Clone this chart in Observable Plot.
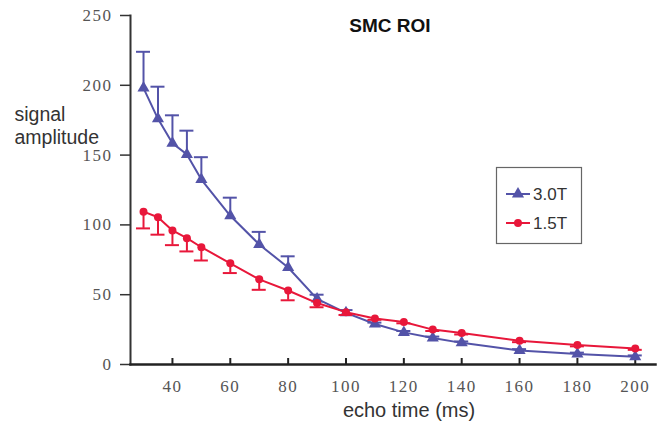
<!DOCTYPE html>
<html><head><meta charset="utf-8">
<script src="https://cdn.jsdelivr.net/npm/d3@7"></script>
<script src="https://cdn.jsdelivr.net/npm/@observablehq/plot@0.6"></script>
<style>
body{margin:0;background:#fff}
g[aria-label="y-axis tick label"] text, g[aria-label="x-axis tick label"] text {letter-spacing:1.5px}
</style>
</head><body><div id="chart"></div>
<script>
const echoTimes = [30,35,40,45,50,60,70,80,90,100,110,120,130,140,160,180,200];
const amp30 = [198,176,158.5,150.5,132.5,106.5,86,69.5,47,37,29,23,19,15.5,10,7.5,5.5];
const err30 = [26,23,20,17,16,13,9,8,3,2,1,1,1,1,1,1,1];
const amp15 = [109.5,105.5,96,90.5,84,72.5,61,53,44,37.5,33,30.5,25,22.5,17,14,11.5];
const err15 = [12,12.5,10.5,9.5,9.5,7,7.5,7,3,2,1,1,1,1,1,1,1];
const seriesNames = ["3.0T","1.5T"];
const seriesColors = ["#5353a8","#e8173a"];
const seriesSymbols = ["triangle","circle"];
const yTicks = [0,50,100,150,200,250];
const xTicks = [40,60,80,100,120,140,160,180,200];
const titleText = "SMC ROI";
const yLabel = "signal\namplitude";
const xLabel = "echo time (ms)";

const s30 = echoTimes.map((t,i)=>({t, v: amp30[i], e: err30[i]}));
const s15 = echoTimes.map((t,i)=>({t, v: amp15[i], e: err15[i]}));

const sans = "Liberation Sans, Arial, sans-serif";
const serif = "Liberation Serif, Times New Roman, serif";

const chart = Plot.plot({
  width: 659, height: 429,
  marginLeft: 130, marginRight: 4, marginTop: 15, marginBottom: 65,
  x: {domain: [25.5, 207]},
  y: {domain: [0, 250]},
  marks: [
    Plot.axisY(yTicks, {tickSize: 10, tickPadding: 8, fontFamily: serif, fontSize: 17, fill: "#555", stroke: "#333", strokeWidth: 1.5, label: null}),
    Plot.axisX(xTicks, {tickSize: 0, tickPadding: 15, fontFamily: serif, fontSize: 17, fill: "#555", label: null}),
    Plot.ruleX(xTicks, {x: d => d, insetTop: 343, stroke: "#222", strokeWidth: 2}),
    // 3.0T
    Plot.ruleX(s30, {x: "t", y1: "v", y2: d => d.v + d.e, stroke: seriesColors[0], strokeWidth: 2}),
    Plot.ruleY(s30, {y: d => d.v + d.e, x1: "t", x2: "t", insetLeft: -7, insetRight: -7, stroke: seriesColors[0], strokeWidth: 2}),
    Plot.line(s30, {x: "t", y: "v", stroke: seriesColors[0], strokeWidth: 2}),
    Plot.dot(s30, {x: "t", y: "v", symbol: seriesSymbols[0], r: 4.5, fill: seriesColors[0]}),
    // 1.5T
    Plot.ruleX(s15, {x: "t", y1: "v", y2: d => d.v - d.e, stroke: seriesColors[1], strokeWidth: 2}),
    Plot.ruleY(s15, {y: d => d.v - d.e, x1: "t", x2: "t", insetLeft: -7, insetRight: -7, stroke: seriesColors[1], strokeWidth: 2}),
    Plot.line(s15, {x: "t", y: "v", stroke: seriesColors[1], strokeWidth: 2}),
    Plot.dot(s15, {x: "t", y: "v", symbol: seriesSymbols[1], r: 4, fill: seriesColors[1]}),
    Plot.frame({anchor: "left", stroke: "#333", strokeWidth: 2}),
    Plot.frame({anchor: "bottom", stroke: "#222", strokeWidth: 2.5}),
    Plot.text([titleText], {frameAnchor: "top", dx: -3, dy: 10, lineAnchor: "middle", fontWeight: "bold", fontSize: 19, fontFamily: sans, fill: "#111"}),
    Plot.text([yLabel], {frameAnchor: "top-left", dx: -116, dy: 90, textAnchor: "start", lineAnchor: "top", lineHeight: 1.15, fontSize: 19.5, fontFamily: sans, fill: "#333"}),
    Plot.text([xLabel], {frameAnchor: "bottom", dx: 16, dy: 46, lineAnchor: "middle", fontSize: 20, fontFamily: sans, fill: "#333"})
  ]
});
document.getElementById("chart").appendChild(chart);

// legend
const svg = d3.select(chart);
const lg = svg.append("g").attr("aria-label", "legend").attr("text-anchor", "start");
lg.append("rect").attr("x", 496.5).attr("y", 167.5).attr("width", 85).attr("height", 76)
  .attr("fill", "white").attr("stroke", "#666").attr("stroke-width", 1.2);
seriesNames.forEach((name, i) => {
  const cy = 194 + i * 29;
  lg.append("line").attr("x1", 506).attr("x2", 530).attr("y1", cy).attr("y2", cy)
    .attr("stroke", seriesColors[i]).attr("stroke-width", 2);
  const sym = i === 0 ? d3.symbolTriangle : d3.symbolCircle;
  lg.append("path").attr("d", d3.symbol(sym, i === 0 ? 64 : 50)()).attr("transform", `translate(518,${cy})`)
    .attr("fill", seriesColors[i]);
  lg.append("text").attr("x", 533).attr("y", cy + 6).text(name)
    .attr("text-anchor", "start")
    .attr("font-family", sans).attr("font-size", 17).attr("fill", "#333");
});
</script>
</body></html>
